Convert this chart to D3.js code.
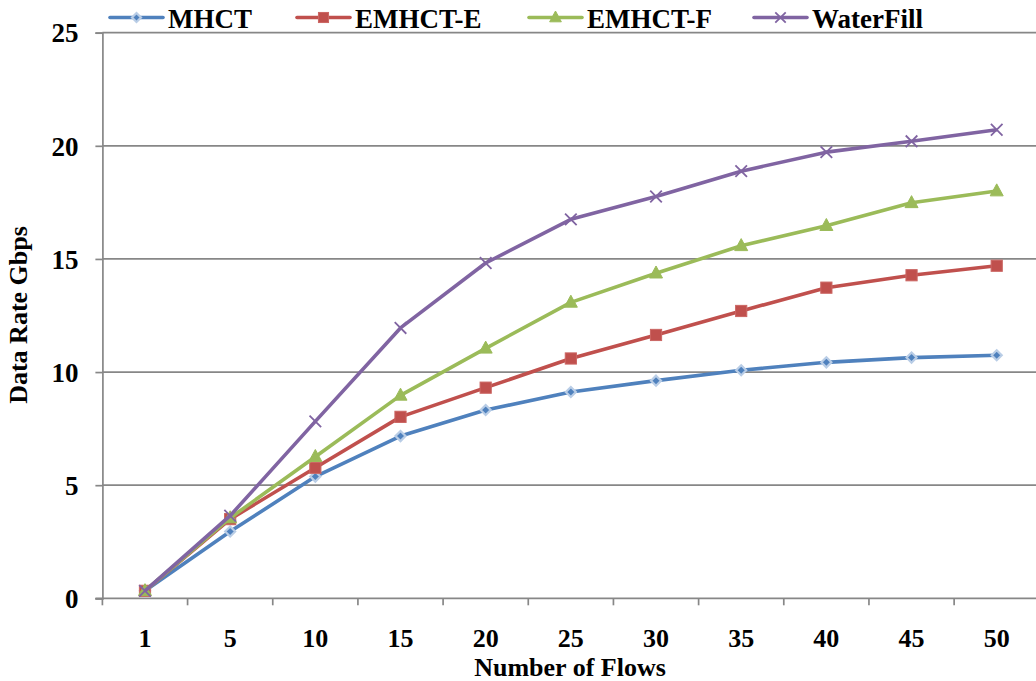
<!DOCTYPE html>
<html>
<head>
<meta charset="utf-8">
<script src="https://cdn.jsdelivr.net/npm/d3@7"></script>
<style>
  html, body { margin: 0; padding: 0; background: #fff; }
  svg { display: block; }
  text { font-family: "Liberation Serif", "Times New Roman", serif; font-weight: bold; fill: #000; }
</style>
</head>
<body>
<svg id="chart" width="1036" height="681"></svg>
<script>
// Number of flows on the x axis
const categories = ["1", "5", "10", "15", "20", "25", "30", "35", "40", "45", "50"];
// Data rate (Gbps) per scheme
const mhct      = [0.33, 2.95, 5.38, 7.17, 8.32, 9.12, 9.62, 10.08, 10.43, 10.64, 10.74];
const emhctE    = [0.33, 3.50, 5.77, 8.02, 9.31, 10.60, 11.64, 12.70, 13.73, 14.28, 14.70];
const emhctF    = [0.33, 3.55, 6.26, 8.97, 11.05, 13.08, 14.37, 15.58, 16.47, 17.48, 18.00];
const waterFill = [0.33, 3.65, 7.82, 11.95, 14.82, 16.75, 17.76, 18.88, 19.72, 20.20, 20.71];
const yTicks = [0, 5, 10, 15, 20, 25];

const seriesNames = ["MHCT", "EMHCT-E", "EMHCT-F", "WaterFill"];
const seriesValues = [mhct, emhctE, emhctF, waterFill];
const seriesColors = ["#4F81BD", "#C0504D", "#9BBB59", "#8064A2"];
const markerKinds = ["diamond", "square", "triangle", "cross"];

const svg = d3.select("#chart");

const plotLeft = 102.4, plotRight = 1039.3, plotTop = 32.7, plotBottom = 598.3;
const x = d3.scaleBand().domain(categories).range([plotLeft, plotRight]);
const y = d3.scaleLinear().domain([0, 25]).range([plotBottom, plotTop]);
const cx = c => x(c) + x.bandwidth() / 2;

const gridColor = "#878787";

// horizontal gridlines
svg.append("g")
  .selectAll("line")
  .data(yTicks.filter(v => v > 0))
  .join("line")
  .attr("x1", plotLeft).attr("x2", plotRight)
  .attr("y1", d => y(d)).attr("y2", d => y(d))
  .attr("stroke", gridColor).attr("stroke-width", 1.7);

// y axis
const yAxis = svg.append("g")
  .attr("transform", `translate(${plotLeft},0)`)
  .call(d3.axisLeft(y).tickValues(yTicks).tickSize(7).tickPadding(17).tickFormat(d3.format("d")));
yAxis.select(".domain").attr("stroke", gridColor).attr("stroke-width", 1.7);
yAxis.selectAll(".tick line").attr("stroke", gridColor).attr("stroke-width", 1.7);
yAxis.selectAll(".tick text")
  .attr("font-size", 27).attr("font-family", "Liberation Serif").attr("font-weight", "bold")
  .attr("fill", "#000").attr("dy", "0.34em");

// x axis: labels at category centres, ticks on category boundaries
const xAxis = svg.append("g")
  .attr("transform", `translate(0,${plotBottom})`)
  .call(d3.axisBottom(x).tickSize(0).tickPadding(30));
xAxis.select(".domain").attr("d", `M${plotLeft - 7},0H${plotRight}`)
  .attr("stroke", gridColor).attr("stroke-width", 1.7);
xAxis.selectAll(".tick text")
  .attr("font-size", 26).attr("font-family", "Liberation Serif").attr("font-weight", "bold")
  .attr("fill", "#000");
xAxis.append("g")
  .selectAll("line")
  .data(categories.map(c => x(c)).concat([plotRight]))
  .join("line")
  .attr("x1", d => d).attr("x2", d => d)
  .attr("y1", 0).attr("y2", 7)
  .attr("stroke", gridColor).attr("stroke-width", 1.7);

// axis titles
svg.append("text")
  .attr("x", 570).attr("y", 676)
  .attr("text-anchor", "middle")
  .attr("font-size", 26)
  .text("Number of Flows");

svg.append("text")
  .attr("transform", "translate(27,315) rotate(-90)")
  .attr("text-anchor", "middle")
  .attr("font-size", 26)
  .text("Data Rate Gbps");

// marker shapes
function drawMarker(g, kind, color, px, py, scale = 1) {
  if (kind === "diamond") {
    const s = 5 * scale;
    g.append("path")
      .attr("d", `M${px},${py - s}L${px + s},${py}L${px},${py + s}L${px - s},${py}Z`)
      .attr("fill", color).attr("stroke", "#B9CDE6").attr("stroke-width", 2.2);
  } else if (kind === "square") {
    const s = 5.6 * scale;
    g.append("rect")
      .attr("x", px - s).attr("y", py - s).attr("width", 2 * s).attr("height", 2 * s)
      .attr("fill", color).attr("stroke", "#CB6663").attr("stroke-width", 1);
  } else if (kind === "triangle") {
    const h = 12 * scale, w = 13 * scale;
    g.append("path")
      .attr("d", `M${px},${py - h * 0.6}L${px + w / 2},${py + h * 0.4}L${px - w / 2},${py + h * 0.4}Z`)
      .attr("fill", color).attr("stroke", color).attr("stroke-width", 1);
  } else {
    const s = 5.8 * scale;
    g.append("path")
      .attr("d", `M${px - s},${py - s}L${px + s},${py + s}M${px - s},${py + s}L${px + s},${py - s}`)
      .attr("stroke", color).attr("stroke-width", 1.8).attr("fill", "none");
  }
}

// series lines and markers
const line = d3.line().x(d => cx(d.c)).y(d => y(d.v));
seriesValues.forEach((vals, i) => {
  const pts = categories.map((c, j) => ({ c, v: vals[j] }));
  const g = svg.append("g");
  g.append("path")
    .datum(pts)
    .attr("d", line)
    .attr("fill", "none")
    .attr("stroke", seriesColors[i])
    .attr("stroke-width", 3.6)
    .attr("stroke-linejoin", "round");
  pts.forEach(p => drawMarker(g, markerKinds[i], seriesColors[i], cx(p.c), y(p.v)));
});

// legend
const legendX = [110, 297, 529, 754];
const legend = svg.append("g");
seriesNames.forEach((name, i) => {
  const lx = legendX[i], ly = 17.5;
  legend.append("line")
    .attr("x1", lx).attr("x2", lx + 53)
    .attr("y1", ly).attr("y2", ly)
    .attr("stroke", seriesColors[i]).attr("stroke-width", 3.6).attr("stroke-linecap", "round");
  drawMarker(legend, markerKinds[i], seriesColors[i], lx + 26.5, ly, 0.9);
  legend.append("text")
    .attr("x", lx + 58).attr("y", 28)
    .attr("font-size", 27)
    .text(name);
});
</script>
</body>
</html>
